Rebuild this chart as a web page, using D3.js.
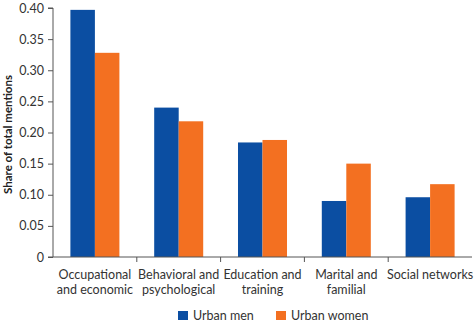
<!DOCTYPE html>
<html><head><meta charset="utf-8">
<script src="https://cdn.jsdelivr.net/npm/d3@7"></script>
<style>body{margin:0;background:#fff}svg{display:block}text{font-family:Lato,sans-serif}</style>
</head><body><svg id="c" width="474" height="323"></svg>
<script>
const categories = [["Occupational","and economic"],["Behavioral and","psychological"],["Education and","training"],["Marital and","familial"],["Social networks"]];
const seriesNames = ["Urban men","Urban women"];
const urbanMen = [0.397, 0.240, 0.184, 0.090, 0.096];
const urbanWomen = [0.328, 0.218, 0.188, 0.150, 0.117];
const yTicks = [0,0.05,0.10,0.15,0.20,0.25,0.30,0.35,0.40];
const colors = ["#0b4ea2","#f37021"];

const svg = d3.select("#c");
const m = {l:53, r:2, t:8, b:66};
const W = 474, H = 323;
const FONT = "Lato,sans-serif";
const x0 = d3.scaleBand().domain(d3.range(categories.length)).range([m.l, W-m.r]).paddingInner(0).paddingOuter(0);
const x1 = d3.scaleBand().domain([0,1]).range([0, x0.bandwidth()]).paddingOuter(0.71).paddingInner(0);
const y = d3.scaleLinear().domain([0,0.4]).range([H-m.b, m.t]);

const data = [urbanMen, urbanWomen];
const g = svg.append("g");
data.forEach((s,si)=>{
  g.selectAll(null).data(s).enter().append("rect")
    .attr("x",(d,i)=>x0(i)+x1(si))
    .attr("width",x1.bandwidth())
    .attr("y",d=>y(d))
    .attr("height",d=>y(0)-y(d))
    .attr("fill",colors[si]);
});

// y axis
const yAxis = d3.axisLeft(y).tickValues(yTicks).tickSize(5).tickPadding(4)
  .tickFormat(d=> d===0 ? "0" : d3.format(".2f")(d));
const ya = svg.append("g").attr("transform",`translate(${m.l},0)`).call(yAxis);
ya.select(".domain").attr("stroke","#555").attr("d",`M-5,${y(0.4)}H0V${y(0)}`);
ya.selectAll(".tick line").attr("stroke","#555");
ya.selectAll(".tick text").attr("font-size",12.5).attr("fill","#333").attr("font-family",FONT);

// x axis
const xa = svg.append("g").attr("transform",`translate(0,${y(0)})`);
xa.append("line").attr("x1",m.l-5).attr("x2",W-m.r).attr("stroke","#555");
d3.range(1,categories.length).forEach(i=>{
  xa.append("line").attr("x1",x0(i)).attr("x2",x0(i)).attr("y1",0).attr("y2",5).attr("stroke","#555");
});
categories.forEach((lines,i)=>{
  const t = xa.append("text").attr("text-anchor","middle").attr("font-size",12.5).attr("fill","#333")
    .attr("font-family",FONT)
    .attr("x",x0(i)+x0.bandwidth()/2).attr("y",22);
  lines.forEach((ln,j)=>t.append("tspan").attr("x",x0(i)+x0.bandwidth()/2).attr("dy",j===0?0:15).text(ln));
});

// y title
svg.append("text").attr("transform",`translate(12,${(y(0)+y(0.4))/2 + 2}) rotate(-90)`)
  .attr("text-anchor","middle").attr("font-size",11.5).attr("font-weight","bold").attr("fill","#222")
  .attr("font-family",FONT)
  .text("Share of total mentions");

// legend
const legX = [178, 276];
seriesNames.forEach((n,i)=>{
  svg.append("rect").attr("x",legX[i]).attr("y",311).attr("width",10).attr("height",9).attr("fill",colors[i]);
  svg.append("text").attr("x",legX[i]+15).attr("y",320).attr("font-size",12.5).attr("fill","#333")
    .attr("font-family",FONT).text(n);
});
</script></body></html>
